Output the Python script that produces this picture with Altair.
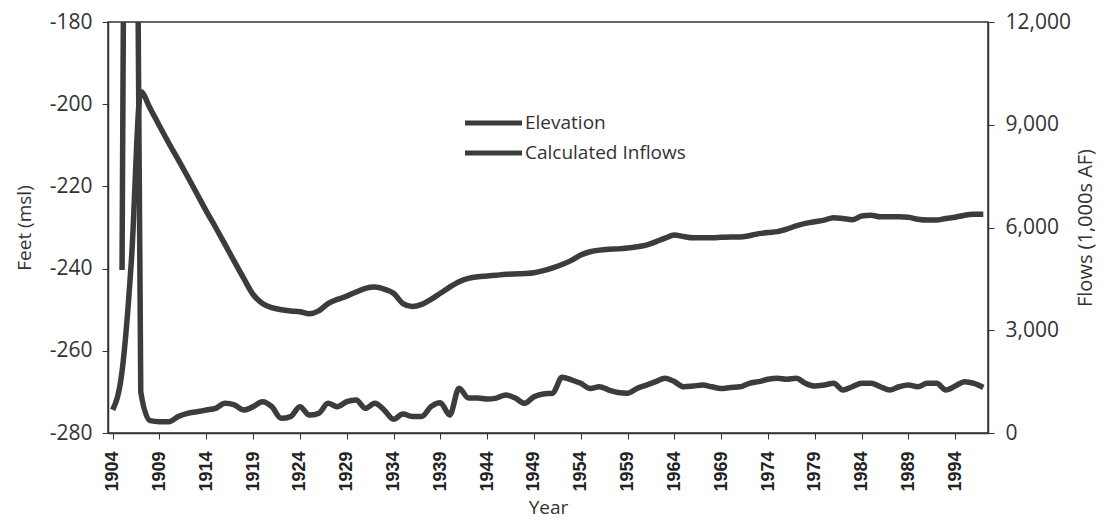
import altair as alt
import pandas as pd

# ---- data ----
years = list(range(1904, 1998))
elevation = [
    -274.4, -265.0, -238.0, -197.0, -201.0, -205.3, -209.5, -213.5, -217.6, -221.8,   # 1904-1913
    -226.0, -230.0, -234.1, -238.3, -242.4, -246.3, -248.5, -249.5, -250.0, -250.3,   # 1914-1923
    -250.5, -251.0, -250.3, -248.5, -247.5, -246.7, -245.7, -244.8, -244.5, -245.0,   # 1924-1933
    -246.0, -248.5, -249.2, -248.7, -247.5, -246.0, -244.5, -243.2, -242.4, -242.0,   # 1934-1943
    -241.8, -241.6, -241.4, -241.3, -241.2, -241.0, -240.5, -239.8, -239.0, -238.0,   # 1944-1953
    -236.7, -235.9, -235.5, -235.3, -235.2, -235.0, -234.7, -234.3, -233.5, -232.6,   # 1954-1963
    -231.8, -232.2, -232.5, -232.5, -232.5, -232.4, -232.3, -232.3, -232.0, -231.5,   # 1964-1973
    -231.2, -231.0, -230.4, -229.6, -229.0, -228.6, -228.2, -227.6, -227.8, -228.1,   # 1974-1983
    -227.2, -227.0, -227.4, -227.4, -227.4, -227.5, -228.0, -228.2, -228.2, -227.8,   # 1984-1993
    -227.5, -227.0, -226.8, -226.8,                                                     # 1994-1997
]
inflow_years = list(range(1905, 1998))
inflows = [
    4760, 40000, 1200, 360, 330, 330, 480, 575, 620, 670,      # 1905-1914
    720, 865, 820, 670, 770, 915, 770, 430, 480, 770,          # 1915-1924
    525, 575, 865, 770, 915, 965, 720, 865, 670, 400,          # 1925-1934
    555, 480, 480, 770, 885, 525, 1310, 1020, 1020, 990,       # 1935-1944
    1020, 1110, 1020, 865, 1060, 1140, 1160, 1630, 1550, 1450, # 1945-1954
    1300, 1350, 1255, 1180, 1160, 1300, 1400, 1500, 1600, 1500,# 1955-1964
    1350, 1370, 1400, 1350, 1300, 1330, 1350, 1450, 1500, 1570,# 1965-1974
    1600, 1570, 1600, 1450, 1370, 1400, 1450, 1255, 1350, 1450,# 1975-1984
    1450, 1350, 1255, 1350, 1400, 1350, 1450, 1450, 1255, 1370,# 1985-1994
    1500, 1450, 1330,                                          # 1995-1997
]
tick_years = list(range(1904, 1998, 5))
left_ticks = [-280, -260, -240, -220, -200, -180]
right_ticks = [0, 3000, 6000, 9000, 12000]
legend_labels = ["Elevation", "Calculated Inflows"]

elev_df = pd.DataFrame({"Year": years, "Elevation": elevation})
flow_df = pd.DataFrame({"Year": inflow_years, "Inflow": inflows})

LINE = "#3c3c3c"
TXT = "#333333"
FONT = "Open Sans"

x_scale = alt.Scale(domain=[1903.5, 1997.5], nice=False, zero=False)
x_axis = alt.Axis(
    title="Year", values=tick_years, labelExpr="'' + datum.value",
    labelAngle=-90, labelFont="Liberation Sans", labelFontWeight="bold",
    labelFontSize=18, labelColor="#222222", labelPadding=12, tickSize=6,
    titleFont=FONT, titleFontSize=19, titleFontWeight="normal", titlePadding=7,
    grid=False,
)

elev = alt.Chart(elev_df).mark_line(
    color=LINE, strokeWidth=5.5, interpolate="monotone", clip=True
).encode(
    x=alt.X("Year:Q", scale=x_scale, axis=x_axis),
    y=alt.Y(
        "Elevation:Q",
        scale=alt.Scale(domain=[-280, -180], nice=False, zero=False),
        axis=alt.Axis(
            title="Feet (msl)", values=left_ticks, labelExpr="'' + datum.value",
            labelFont=FONT, labelFontSize=21, labelPadding=10, tickSize=6,
            titleFont=FONT, titleFontSize=19, titleFontWeight="normal",
            titlePadding=15, grid=False, orient="left",
        ),
    ),
)

flow = alt.Chart(flow_df).mark_line(
    color=LINE, strokeWidth=5.5, interpolate="monotone", clip=True
).encode(
    x=alt.X("Year:Q", scale=x_scale, axis=x_axis),
    y=alt.Y(
        "Inflow:Q",
        scale=alt.Scale(domain=[0, 12000], nice=False, zero=False),
        axis=alt.Axis(
            title="Flows (1,000s AF)", values=right_ticks,
            labelExpr="format(datum.value, ',.0f')",
            labelFont=FONT, labelFontSize=21, labelPadding=11, tickSize=6,
            titleFont=FONT, titleFontSize=20, titleFontWeight="normal",
            titleAngle=-90, titleBaseline="top", titlePadding=5,
            grid=False, orient="right",
        ),
    ),
)

leg_df = pd.DataFrame({"label": legend_labels})

def legend_row(label, ypos):
    base = alt.Chart(leg_df).transform_filter(alt.datum.label == label)
    rule = base.mark_rule(color=LINE, strokeWidth=5).encode(
        x=alt.value(357), x2=alt.value(414), y=alt.value(ypos)
    )
    text = base.mark_text(
        align="left", baseline="middle", font=FONT, fontSize=19, color=TXT
    ).encode(x=alt.value(417), y=alt.value(ypos), text="label:N")
    return rule + text

chart = alt.layer(
    elev, flow, legend_row("Elevation", 101), legend_row("Calculated Inflows", 131)
).resolve_scale(y="independent").properties(
    width=880, height=411,
    padding={"left": 100, "top": 14, "right": 110, "bottom": 86},
    autosize=alt.AutoSizeParams(type="none"),
    background="white",
).configure_view(
    stroke="#333333", strokeWidth=1.5
).configure_axis(
    domainColor="#333333", tickColor="#333333", labelColor=TXT, titleColor=TXT,
    domainWidth=1.5,
)

chart.save("out.html", embed_options={"renderer": "svg", "actions": False})
